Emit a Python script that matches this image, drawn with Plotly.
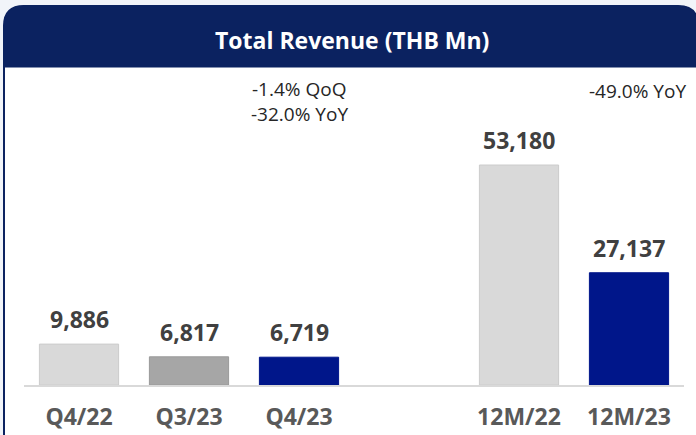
import plotly.graph_objects as go

categories = ["Q4/22", "Q3/23", "Q4/23", "12M/22", "12M/23"]
revenue = [9886, 6817, 6719, 53180, 27137]
bar_colors = ["#d9d9d9", "#a6a6a6", "#00168a", "#d9d9d9", "#00168a"]
line_colors = ["#cccccc", "#9a9a9a", "#00168a", "#cccccc", "#00168a"]
title_text = "Total Revenue (THB Mn)"
quarter_note = ["-1.4% QoQ", "-32.0% YoY"]
annual_note = "-49.0% YoY"

# slot positions: quarterly group then a gap, then annual group
positions = [0, 1, 2, 4, 5]

W, H = 696, 435
ML, MR, MT, MB = 24, 12, 67, 50
PW, PH = W - ML - MR, H - MT - MB


def px(x):
    return (x - ML) / PW


def py(y):
    return (H - MB - y) / PH


fig = go.Figure()
fig.add_trace(go.Bar(
    x=positions, y=revenue, width=0.72,
    marker=dict(color=bar_colors, line=dict(color=line_colors, width=1)),
    hoverinfo="skip",
))

NAVY = "#0b2260"
card = (f"M {px(4)},{py(445)} L {px(4)},{py(26)} Q {px(4)},{py(6)} {px(24)},{py(6)} "
        f"L {px(678)},{py(6)} Q {px(698)},{py(6)} {px(698)},{py(26)} L {px(698)},{py(445)} Z")
header = (f"M {px(4)},{py(67)} L {px(4)},{py(26)} Q {px(4)},{py(6)} {px(24)},{py(6)} "
          f"L {px(678)},{py(6)} Q {px(698)},{py(6)} {px(698)},{py(26)} L {px(698)},{py(67)} Z")
shapes = [
    dict(type="path", path=card, xref="paper", yref="paper", fillcolor="white",
         line=dict(color=NAVY, width=2), layer="below"),
    dict(type="path", path=header, xref="paper", yref="paper", fillcolor=NAVY,
         line=dict(color=NAVY, width=1), layer="below"),
]

NOTE_FONT = dict(family="Open Sans", size=19, color="#262626")
annotations = [
    dict(text=f"<b>{title_text}</b>", x=px(352), y=py(40), xref="paper", yref="paper",
         showarrow=False, font=dict(family="Open Sans", size=23, color="white"),
         xanchor="center", yanchor="middle"),
    dict(text=quarter_note[0], x=positions[2], y=py(89), xref="x", yref="paper",
         showarrow=False, font=NOTE_FONT, xanchor="center", yanchor="middle"),
    dict(text=quarter_note[1], x=positions[2], y=py(114), xref="x", yref="paper",
         showarrow=False, font=NOTE_FONT, xanchor="center", yanchor="middle"),
    dict(text=annual_note, x=positions[4], xshift=8, y=py(91), xref="x", yref="paper",
         showarrow=False, font=NOTE_FONT, xanchor="center", yanchor="middle"),
]
for p, v in zip(positions, revenue):
    annotations.append(dict(
        text=f"<b>{v:,}</b>", x=p, y=v, xref="x", yref="y", showarrow=False,
        yanchor="bottom", yshift=7,
        font=dict(family="Open Sans", size=23, color="#404040"),
    ))

fig.update_layout(
    width=W, height=H,
    margin=dict(l=ML, r=MR, t=MT, b=MB),
    paper_bgcolor="#f1f4f9", plot_bgcolor="rgba(0,0,0,0)",
    showlegend=False,
    shapes=shapes, annotations=annotations,
    xaxis=dict(range=[-0.5, 5.5], tickvals=positions,
               ticktext=[f"<b>{c}</b>" for c in categories],
               tickfont=dict(family="Open Sans", size=23, color="#595959"),
               showline=True, linecolor="#d9d9d9", linewidth=1.5, automargin=False,
               showgrid=False, zeroline=False, ticks="", ticklabelstandoff=11),
    yaxis=dict(range=[0, PH * 53180 / 220], visible=False, showgrid=False,
               zeroline=False, automargin=False),
)

fig.write_html("out.html", config={"displayModeBar": False},
               post_script="document.body.style.margin='0';")
